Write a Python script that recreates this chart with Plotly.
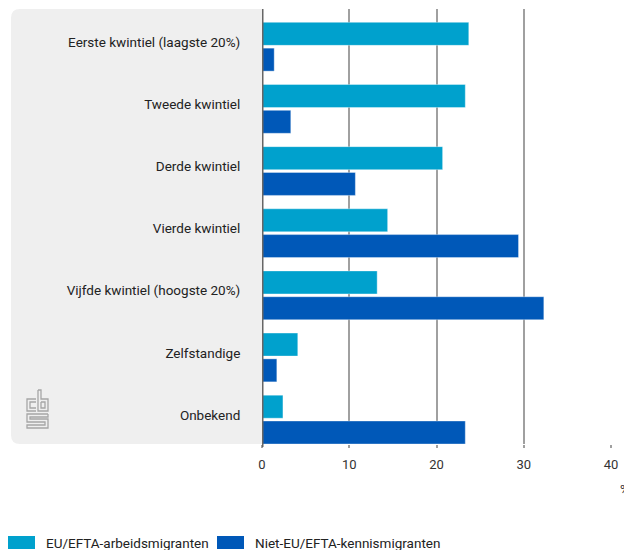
import plotly.graph_objects as go

categories = [
    "Eerste kwintiel (laagste 20%)",
    "Tweede kwintiel",
    "Derde kwintiel",
    "Vierde kwintiel",
    "Vijfde kwintiel (hoogste 20%)",
    "Zelfstandige",
    "Onbekend",
]
eu_efta = [23.7, 23.3, 20.7, 14.4, 13.2, 4.1, 2.4]
niet_eu = [1.4, 3.3, 10.7, 29.4, 32.3, 1.7, 23.3]
series_names = ["EU/EFTA-arbeidsmigranten", "Niet-EU/EFTA-kennismigranten"]
series_colors = ["#00a1cd", "#0058b8"]
tick_vals = [0, 10, 20, 30, 40]

# page body has an 8px margin: figure coordinates = screen coordinates - 8
OFF = 8
W, H = 632 - OFF, 550 - OFF
L, R, T, B = 262, 611, 9, 444  # screen coordinates of the plot area


def px(x):
    return (x - L) / (R - L)


def py(y):
    return (B - y) / (B - T)


FONT = "Roboto"
fig = go.Figure()
fig.add_trace(go.Bar(
    y=categories, x=eu_efta, name=series_names[0], orientation="h",
    marker=dict(color=series_colors[0], line=dict(color="rgba(255,255,255,0.6)", width=0.6)),
    width=0.37, offset=-0.285,
))
fig.add_trace(go.Bar(
    y=categories, x=niet_eu, name=series_names[1], orientation="h",
    marker=dict(color=series_colors[1], line=dict(color="rgba(255,255,255,0.6)", width=0.6)),
    width=0.37, offset=0.13,
))

# grey label panel with rounded left corners
x0, x1, y0, y1, r = px(11), px(262), py(9), py(444), 9
rx = r / (R - L)
ry = r / (B - T)
path = (f"M {x1},{y0} L {x0 + rx},{y0} Q {x0},{y0} {x0},{y0 - ry} "
        f"L {x0},{y1 + ry} Q {x0},{y1} {x0 + rx},{y1} L {x1},{y1} Z")
shapes = [dict(type="path", path=path, xref="paper", yref="paper",
               fillcolor="#efefef", line=dict(width=0), layer="below")]
# zero axis line
shapes.append(dict(type="line", xref="x", yref="paper", x0=0, x1=0, y0=py(447), y1=1,
                   line=dict(color="#666666", width=3), layer="above"))


# simplified logo
def lp(points):
    d = "M " + " L ".join(f"{px(a)},{py(b)}" for a, b in points)
    return dict(type="path", path=d, xref="paper", yref="paper",
                line=dict(color="#a6a6a6", width=1.3), layer="below")


shapes.append(lp([(36, 399), (27, 399), (27, 411), (36, 411)]))
shapes.append(lp([(36, 402), (30, 402), (30, 408), (36, 408)]))
shapes.append(lp([(38, 390), (38, 411), (48, 411), (48, 399), (41, 399), (41, 390), (38, 390)]))
shapes.append(lp([(41, 402), (45, 402), (45, 408), (41, 408), (41, 402)]))
shapes.append(lp([(48, 414), (27, 414), (27, 422), (45, 422), (45, 425), (27, 425), (27, 428),
                  (48, 428), (48, 419), (30, 419), (30, 417), (48, 417), (48, 414)]))

# legend (drawn as swatches + text)
legend_x = [8, 217]
annotations = []
for name, col, lx in zip(series_names, series_colors, legend_x):
    shapes.append(dict(type="rect", xref="paper", yref="paper",
                       x0=px(lx), x1=px(lx + 27), y0=py(536), y1=py(549),
                       fillcolor=col, line=dict(width=0)))
    annotations.append(dict(text=name, xref="paper", yref="paper", x=px(lx + 36), y=py(542.5),
                            xanchor="left", yanchor="middle", showarrow=False,
                            font=dict(family=FONT, size=13.5, color="#222222")))

annotations.append(dict(text="%", xref="paper", yref="paper", x=px(631.5), y=py(490),
                        xanchor="right", yanchor="middle", showarrow=False,
                        font=dict(family=FONT, size=13, color="#333333")))

fig.update_layout(
    width=W, height=H,
    margin=dict(l=L - OFF, r=W - (R - OFF), t=T - OFF, b=H - (B - OFF), pad=0),
    paper_bgcolor="white", plot_bgcolor="rgba(0,0,0,0)",
    font=dict(family=FONT, size=13.5, color="#222222"),
    barmode="group",
    shapes=shapes,
    showlegend=False,
    annotations=annotations,
)
fig.update_xaxes(range=[0, 40], tickvals=tick_vals, showgrid=True, gridcolor="#a0a0a0",
                 gridwidth=1.5, zeroline=False, showline=False, ticks="outside",
                 ticklen=3, tickcolor="#a0a0a0", tickwidth=1.5,
                 tickfont=dict(family=FONT, size=13, color="#333333"),
                 ticklabelstandoff=5, fixedrange=True)
fig.update_yaxes(autorange="reversed", categoryorder="array", categoryarray=categories,
                 showgrid=False, zeroline=False, showline=False, ticks="outside",
                 ticklen=18, tickcolor="rgba(0,0,0,0)", ticklabelshift=-2,
                 tickfont=dict(family=FONT, size=13.5, color="#222222"), fixedrange=True)

fig.write_html("out.html")
